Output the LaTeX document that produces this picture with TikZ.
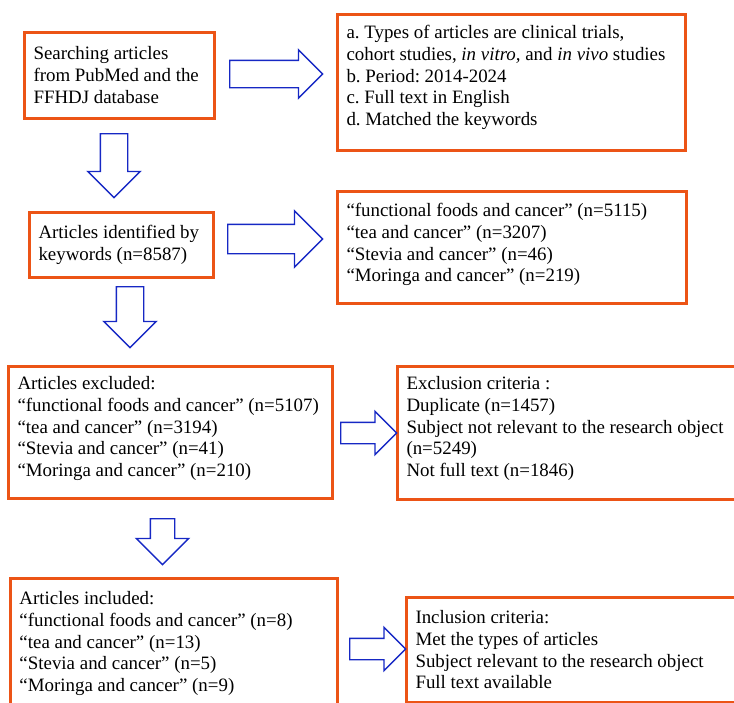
\documentclass[tikz,border=0pt]{standalone}
\usepackage{fontspec}
\setmainfont{Liberation Serif}
\frenchspacing
\usetikzlibrary{shapes.arrows}
\definecolor{boxorange}{RGB}{236,84,22}
\definecolor{arrowblue}{RGB}{22,40,196}
\tikzset{
  box/.style={draw=boxorange, line width=3pt, anchor=north west, inner xsep=9pt, inner ysep=0pt,
    align=flush left, font=\fontsize{18.9}{21.8}\selectfont},
  blockarrow/.style={single arrow, draw=arrowblue, line width=1.4pt, inner xsep=0pt,
    single arrow head indent=0pt, anchor=tail},
}
\begin{document}
\begin{tikzpicture}[x=1pt,y=-1pt]
\useasboundingbox (0,0) rectangle (734,702);
\clip (0,0) rectangle (734,702);
% left column
\node[box, text width=172pt, text height=27pt, text depth=59pt] (search) at (23,31) {Searching articles\\from PubMed and the\\FFHDJ database};
\node[box, text width=166pt, text height=26pt, text depth=39pt] (identified) at (28,211) {Articles identified by\\keywords (n=8587)};
\node[box, text width=306pt, text height=23pt, text depth=109pt] (excluded) at (7,365) {Articles excluded:\\“functional foods and cancer” (n=5107)\\“tea and cancer” (n=3194)\\“Stevia and cancer” (n=41)\\“Moringa and cancer” (n=210)};
\node[box, text width=309pt, text height=26pt, text depth=127pt] (included) at (9,577) {Articles included:\\“functional foods and cancer” (n=8)\\“tea and cancer” (n=13)\\“Stevia and cancer” (n=5)\\“Moringa and cancer” (n=9)};
% right column
\node[box, text width=330pt, text height=24pt, text depth=112pt] (criteria) at (336,13) {a. Types of articles are clinical trials,\\cohort studies, \textit{in vitro,} and \textit{in vivo} studies\\b. Period: 2014-2024\\c. Full text in English\\d. Matched the keywords};
\node[box, text width=331pt, text height=25pt, text depth=87pt] (keywords) at (336,190) {“functional foods and cancer” (n=5115)\\“tea and cancer” (n=3207)\\“Stevia and cancer” (n=46)\\“Moringa and cancer” (n=219)};
\node[box, text width=332pt, text height=23pt, text depth=110pt] (exclusion) at (396,365) {Exclusion criteria :\\Duplicate (n=1457)\\Subject not relevant to the research object\\(n=5249)\\Not full text (n=1846)};
\node[box, text width=323pt, text height=26pt, text depth=79pt] (inclusion) at (405,596) {Inclusion criteria:\\Met the types of articles\\Subject relevant to the research object\\Full text available};
% arrows
\node[blockarrow, minimum height=93pt, inner ysep=13pt, single arrow head extend=10.5pt] (search-criteria) at (229,74) {};
\node[blockarrow, minimum height=95pt, inner ysep=14pt, single arrow head extend=13.5pt] (identified-keywords) at (227,239) {};
\node[blockarrow, minimum height=56pt, inner ysep=10pt, single arrow head extend=11pt] (excluded-exclusion) at (340,433) {};
\node[blockarrow, minimum height=56pt, inner ysep=10pt, single arrow head extend=11pt] (included-inclusion) at (349,649) {};
\node[blockarrow, rotate=-90, minimum height=64pt, inner ysep=13pt, single arrow head extend=12.5pt] (search-identified) at (114,133) {};
\node[blockarrow, rotate=-90, minimum height=61pt, inner ysep=13pt, single arrow head extend=12.5pt] (identified-excluded) at (130,286) {};
\node[blockarrow, rotate=-90, minimum height=46pt, inner ysep=11.5pt, single arrow head extend=14pt] (excluded-included) at (162.5,518) {};
\end{tikzpicture}
\end{document}
